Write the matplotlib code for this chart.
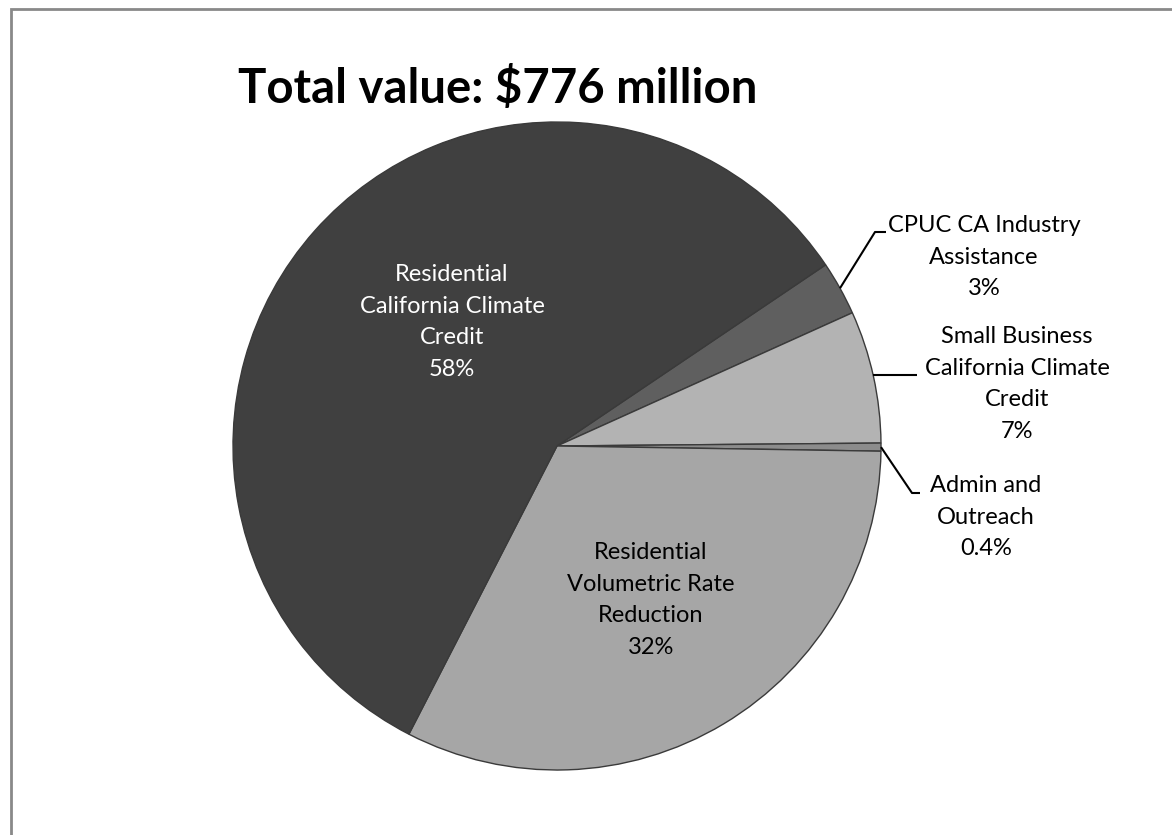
import numpy as np
import matplotlib
matplotlib.use("Agg")
import matplotlib.pyplot as plt
from matplotlib.patches import Rectangle

# ---------------------------------------------------------------------------
# Data (share of total, percent) - clockwise order from the CPUC slice
# ---------------------------------------------------------------------------
categories = [
    "CPUC CA Industry\nAssistance",
    "Small Business\nCalifornia Climate\nCredit",
    "Admin and\nOutreach",
    "Residential\nVolumetric Rate\nReduction",
    "Residential\nCalifornia Climate\nCredit",
]
shares = [2.7, 6.6, 0.4, 32.3, 58.0]
pct_labels = ["3%", "7%", "0.4%", "32%", "58%"]
colors = ["#5f5f5f", "#b3b3b3", "#8c8c8c", "#a6a6a6", "#404040"]
title = "Total value: $776 million"

W, H = 1172, 835
FONT = "Lato"

fig = plt.figure(figsize=(W / 100, H / 100), dpi=100)
ax = fig.add_axes([0, 0, 1, 1])

cx, cy, r = 557, H - 446, 324
wedges, _ = ax.pie(
    shares, colors=colors, startangle=34.0, counterclock=False,
    center=(cx, cy), radius=r, frame=True,
    wedgeprops=dict(edgecolor="#3a3a3a", linewidth=1.0),
)
ax.set_xlim(0, W)
ax.set_ylim(0, H)
ax.axis("off")

# label placement (pixel coords, y from top) and leader elbows
label_pos = [(984, 257), (1017, 384), (986, 517), (651, 600), (452, 322)]
text_colors = ["black", "black", "black", "black", "white"]
leaders = {
    0: [(875, 232), (886, 232)],
    1: [(917, 375)],
    2: [(912, 493), (920, 493)],
}

for i, w in enumerate(wedges):
    x, y = label_pos[i]
    ax.text(x, H - y, categories[i] + "\n" + pct_labels[i],
            ha="center", va="center", fontsize=17, family=FONT,
            color=text_colors[i], linespacing=1.62)
    if i in leaders:
        mid = np.deg2rad((w.theta1 + w.theta2) / 2)
        pts = [(cx + r * np.cos(mid), cy + r * np.sin(mid))]
        if i == 1:
            pts = [(cx + r * np.cos(mid), H - leaders[1][0][1])]
        pts += [(px, H - py) for px, py in leaders[i]]
        xs, ys = zip(*pts)
        ax.plot(xs, ys, color="black", linewidth=1.5, solid_capstyle="butt")

ax.text(498, H - 89, title, ha="center", va="center", fontsize=34,
        family=FONT, fontweight="bold", color="black")

# chart-area border (only top and left edges fall inside the picture)
fig.patches.append(Rectangle((10.5 / W, 0 - 0.1), 2, (H - 9.5) / H + 0.1,
                             transform=fig.transFigure, fill=False,
                             edgecolor="#898989", linewidth=2))

fig.savefig("out.png", dpi=100)
